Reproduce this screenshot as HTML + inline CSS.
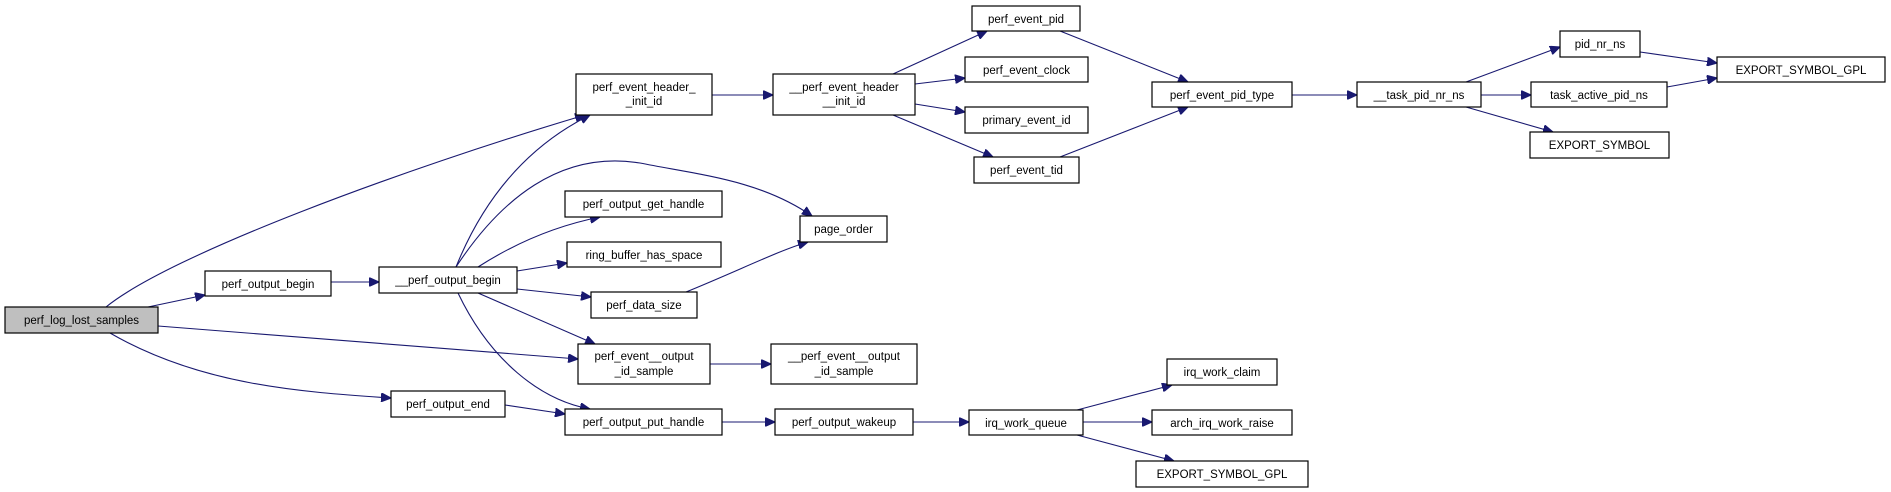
<!DOCTYPE html>
<html><head><meta charset="utf-8"><style>
html,body{margin:0;padding:0;background:#fff}
svg{display:block}
text{font-family:"Liberation Sans",sans-serif;font-size:11.5px;fill:#000}
rect{fill:#fff;stroke:#000;stroke-width:1.2}
path{fill:none;stroke:#191970;stroke-width:1.1}
</style></head><body>
<svg width="1891" height="492" viewBox="0 0 1891 492" xmlns="http://www.w3.org/2000/svg">
<defs><marker id="a" markerUnits="userSpaceOnUse" markerWidth="11" markerHeight="9" refX="10" refY="4.5" orient="auto"><path d="M0,0 L10,4.5 L0,9 Z" style="fill:#191970;stroke:#191970"/></marker></defs>
<g marker-end="url(#a)">
<path d="M106,307 C170,255 400,170 585,115"/>
<path d="M148,307 L205,295"/>
<path d="M158,326 L578,359"/>
<path d="M110,333 C200,385 300,392 391,398"/>
<path d="M331,282 L379,282"/>
<path d="M456,267 C485,195 530,145 590,115"/>
<path d="M456,267 C500,200 560,150 640,163 C700,175 760,180 812,216"/>
<path d="M478,267 C520,240 560,225 600,217"/>
<path d="M517,271 L567,263"/>
<path d="M517,289 L591,297"/>
<path d="M478,293 L595,344"/>
<path d="M458,293 C490,360 540,400 590,409"/>
<path d="M686,292 C740,270 780,250 808,242"/>
<path d="M712,95 L773,95"/>
<path d="M893,74 L987,31"/>
<path d="M915,84 L965,78"/>
<path d="M915,104 L965,112"/>
<path d="M893,115 L993,157"/>
<path d="M1060,31 L1188,82"/>
<path d="M1060,157 L1188,107"/>
<path d="M1292,95 L1357,95"/>
<path d="M1466,82 L1560,47"/>
<path d="M1481,95 L1531,95"/>
<path d="M1466,107 L1553,132"/>
<path d="M1640,52 L1717,63"/>
<path d="M1667,87 L1717,78"/>
<path d="M710,364 L771,364"/>
<path d="M505,405 L565,414"/>
<path d="M722,422 L775,422"/>
<path d="M913,422 L969,422"/>
<path d="M1077,410 L1172,385"/>
<path d="M1083,422 L1152,422"/>
<path d="M1077,435 L1174,461"/>
</g>
<rect x="5" y="307" width="153" height="26" style="fill:#bfbfbf"/><text x="81.5" y="324" text-anchor="middle">perf_log_lost_samples</text>
<rect x="205" y="271" width="126" height="25"/><text x="268" y="288" text-anchor="middle">perf_output_begin</text>
<rect x="379" y="267" width="138" height="26"/><text x="448" y="284" text-anchor="middle">__perf_output_begin</text>
<rect x="576" y="74" width="136" height="41"/><text x="644" y="91" text-anchor="middle">perf_event_header_</text><text x="644" y="105" text-anchor="middle">_init_id</text>
<rect x="773" y="74" width="142" height="41"/><text x="844" y="91" text-anchor="middle">__perf_event_header</text><text x="844" y="105" text-anchor="middle">__init_id</text>
<rect x="565" y="191" width="157" height="26"/><text x="643.5" y="208" text-anchor="middle">perf_output_get_handle</text>
<rect x="800" y="216" width="87" height="26"/><text x="843.5" y="233" text-anchor="middle">page_order</text>
<rect x="567" y="242" width="154" height="25"/><text x="644" y="259" text-anchor="middle">ring_buffer_has_space</text>
<rect x="591" y="292" width="106" height="26"/><text x="644" y="309" text-anchor="middle">perf_data_size</text>
<rect x="578" y="344" width="132" height="40"/><text x="644" y="360" text-anchor="middle">perf_event__output</text><text x="644" y="375" text-anchor="middle">_id_sample</text>
<rect x="771" y="344" width="146" height="40"/><text x="844" y="360" text-anchor="middle">__perf_event__output</text><text x="844" y="375" text-anchor="middle">_id_sample</text>
<rect x="391" y="391" width="114" height="26"/><text x="448" y="408" text-anchor="middle">perf_output_end</text>
<rect x="565" y="409" width="157" height="26"/><text x="643.5" y="426" text-anchor="middle">perf_output_put_handle</text>
<rect x="775" y="409" width="138" height="26"/><text x="844" y="426" text-anchor="middle">perf_output_wakeup</text>
<rect x="972" y="6" width="108" height="25"/><text x="1026" y="23" text-anchor="middle">perf_event_pid</text>
<rect x="965" y="57" width="123" height="25"/><text x="1026.5" y="74" text-anchor="middle">perf_event_clock</text>
<rect x="965" y="107" width="123" height="26"/><text x="1026.5" y="124" text-anchor="middle">primary_event_id</text>
<rect x="974" y="157" width="105" height="26"/><text x="1026.5" y="174" text-anchor="middle">perf_event_tid</text>
<rect x="1152" y="82" width="140" height="25"/><text x="1222" y="99" text-anchor="middle">perf_event_pid_type</text>
<rect x="1357" y="82" width="124" height="25"/><text x="1419" y="99" text-anchor="middle">__task_pid_nr_ns</text>
<rect x="1560" y="31" width="80" height="26"/><text x="1600" y="48" text-anchor="middle">pid_nr_ns</text>
<rect x="1531" y="82" width="136" height="25"/><text x="1599" y="99" text-anchor="middle">task_active_pid_ns</text>
<rect x="1530" y="132" width="139" height="26"/><text x="1599.5" y="149" text-anchor="middle">EXPORT_SYMBOL</text>
<rect x="1717" y="57" width="168" height="25"/><text x="1801" y="74" text-anchor="middle">EXPORT_SYMBOL_GPL</text>
<rect x="969" y="410" width="114" height="25"/><text x="1026" y="427" text-anchor="middle">irq_work_queue</text>
<rect x="1167" y="359" width="110" height="26"/><text x="1222" y="376" text-anchor="middle">irq_work_claim</text>
<rect x="1152" y="410" width="140" height="25"/><text x="1222" y="427" text-anchor="middle">arch_irq_work_raise</text>
<rect x="1136" y="461" width="172" height="26"/><text x="1222" y="478" text-anchor="middle">EXPORT_SYMBOL_GPL</text>
</svg>
</body></html>
